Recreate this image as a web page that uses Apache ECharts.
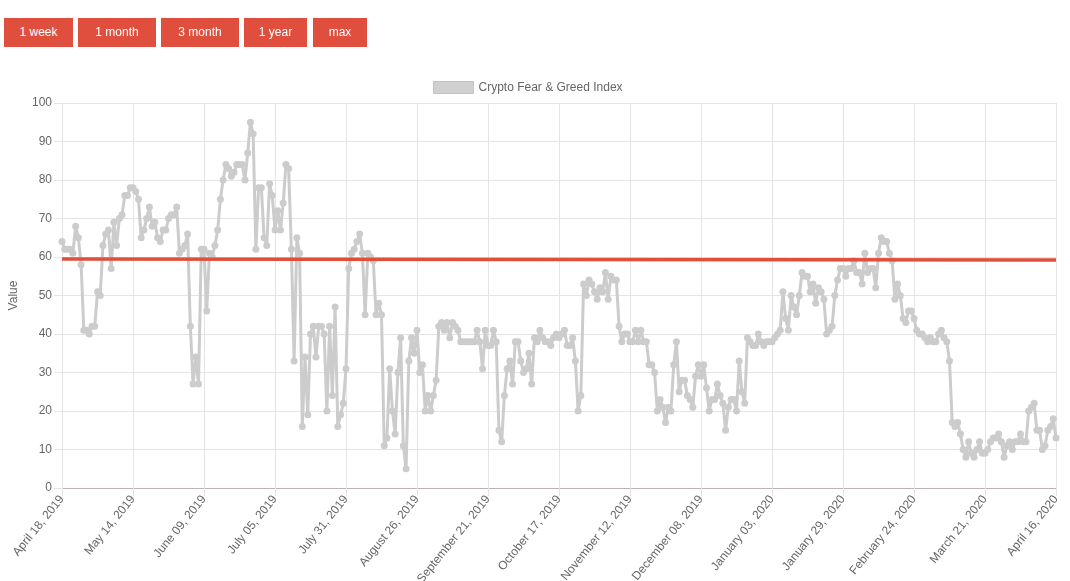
<!DOCTYPE html>
<html><head><meta charset="utf-8">
<script src="https://cdn.jsdelivr.net/npm/echarts@6/dist/echarts.min.js"></script>
<style>
html,body{margin:0;padding:0;background:#fff;width:1070px;height:581px;overflow:hidden;}
#chart{position:absolute;left:0;top:0;width:1070px;height:581px;}
.btn{position:absolute;top:18px;height:29px;background:#e04f3e;color:#fff;font:12px 'Liberation Sans',Arial,sans-serif;line-height:29px;text-align:center;z-index:2;}
</style></head><body>
<div id="chart"></div>
<div class="btn" style="left:4px;width:69px">1 week</div>
<div class="btn" style="left:78px;width:78px">1 month</div>
<div class="btn" style="left:161px;width:78px">3 month</div>
<div class="btn" style="left:244px;width:63px">1 year</div>
<div class="btn" style="left:313px;width:54px">max</div>
<script>
const seriesName = 'Crypto Fear & Greed Index';
const startDate = [2019, 3, 18];
const monthNames = ['January','February','March','April','May','June','July','August','September','October','November','December'];
const values = [
 64,62,62,62,61,68,65,58,41,41,40,42,42,51,50,63,66,67,57,69,
 63,70,71,76,76,78,78,77,75,65,67,70,73,68,69,65,64,67,67,70,
 71,71,73,61,62,63,66,42,27,34,27,62,62,46,61,60,63,67,75,80,
 84,83,81,82,84,84,84,80,87,95,92,62,78,78,65,63,79,76,67,72,
 67,74,84,83,62,33,65,61,16,34,19,40,42,34,42,42,40,20,42,24,
 47,16,19,22,31,57,61,62,64,66,61,45,61,60,59,45,48,45,11,13,
 31,20,14,30,39,11,5,33,39,35,41,30,32,20,24,20,24,28,42,43,
 41,43,39,43,42,41,38,38,38,38,38,38,41,38,31,41,37,37,41,38,
 15,12,24,31,33,27,38,38,33,30,31,35,27,39,38,41,39,38,38,37,
 39,40,39,40,41,37,37,39,33,20,24,53,50,54,53,51,49,52,51,56,
 49,55,54,54,42,38,40,40,38,38,41,38,41,38,38,32,32,30,20,23,
 21,17,21,20,32,38,25,28,28,24,23,21,29,32,29,32,26,20,23,23,
 27,24,22,15,21,23,23,20,33,25,22,39,38,37,37,40,38,37,38,38,
 38,39,40,41,51,44,41,50,47,45,50,56,55,55,51,53,48,52,51,49,
 40,41,42,50,54,57,57,55,57,57,59,56,56,53,61,56,57,57,52,61,
 65,64,64,61,59,49,53,50,44,43,46,46,44,41,40,40,39,38,39,38,
 38,40,41,39,38,33,17,16,17,14,10,8,12,9,8,10,12,9,9,10,
 12,13,13,14,12,8,11,12,10,12,12,14,12,12,20,21,22,15,15,10,
 11,15,16,18,13
];
const thresholdLine = [59.5, 59.2];
const yTicks = {min: 0, max: 100, interval: 10};
const labelEvery = 26;

const categories = [];
const t0 = Date.UTC(startDate[0], startDate[1], startDate[2]);
for (let i = 0; i < values.length; i++) {
  const d = new Date(t0 + i * 86400000);
  const dd = String(d.getUTCDate()).padStart(2, '0');
  categories.push(monthNames[d.getUTCMonth()] + ' ' + dd + ', ' + d.getUTCFullYear());
}

const font = "'Liberation Sans', Arial, Helvetica, sans-serif";
const chart = echarts.init(document.getElementById('chart'), null, {renderer: 'canvas'});
chart.setOption({
  animation: false,
  backgroundColor: '#ffffff',
  textStyle: {fontFamily: font},
  legend: {
    data: [seriesName],
    left: 428, top: 76,
    icon: 'rect', itemWidth: 40, itemHeight: 12, itemGap: 10,
    itemStyle: {color: '#d0d0d0', borderColor: '#c2c2c2', borderWidth: 1},
    textStyle: {fontSize: 12, color: '#666', fontFamily: font}
  },
  grid: {left: 62, right: 14, top: 103, bottom: 93, containLabel: false, outerBoundsMode: 'none'},
  xAxis: {
    type: 'category',
    data: categories,
    boundaryGap: false,
    axisLine: {show: true, lineStyle: {color: '#bcb4b4', width: 1}},
    axisTick: {show: true, interval: labelEvery - 1, length: 8, lineStyle: {color: '#e4e4e4'}},
    axisLabel: {interval: labelEvery - 1, rotate: 51, margin: 9, fontSize: 12, color: '#666', fontFamily: font},
    splitLine: {show: true, interval: labelEvery - 1, lineStyle: {color: '#e4e4e4', width: 1}}
  },
  yAxis: {
    type: 'value',
    min: yTicks.min, max: yTicks.max, interval: yTicks.interval,
    name: 'Value', nameLocation: 'middle', nameGap: 42, nameRotate: 90,
    nameTextStyle: {fontSize: 12, color: '#666', fontFamily: font},
    axisLine: {show: true, lineStyle: {color: '#e4e4e4'}},
    axisTick: {show: true, length: 8, lineStyle: {color: '#e4e4e4'}},
    axisLabel: {margin: 10, fontSize: 12, color: '#666', fontFamily: font},
    splitLine: {show: true, lineStyle: {color: '#e4e4e4', width: 1}}
  },
  series: [
    {
      name: 'threshold',
      type: 'line',
      data: [],
      z: 1,
      silent: true,
      markLine: {
        silent: true,
        symbol: ['none', 'none'],
        label: {show: false},
        lineStyle: {color: '#e04e3c', width: 3.5, type: 'solid'},
        data: [[{coord: [categories[0], thresholdLine[0]]}, {coord: [categories[categories.length - 1], thresholdLine[1]]}]]
      }
    },
    {
      name: seriesName,
      type: 'line',
      data: values,
      z: 3,
      symbol: 'circle',
      symbolSize: 7,
      showSymbol: true,
      showAllSymbol: true,
      lineStyle: {color: '#cccccc', width: 3},
      itemStyle: {color: '#cccccc'}
    }
  ]
});
</script>
</body></html>
